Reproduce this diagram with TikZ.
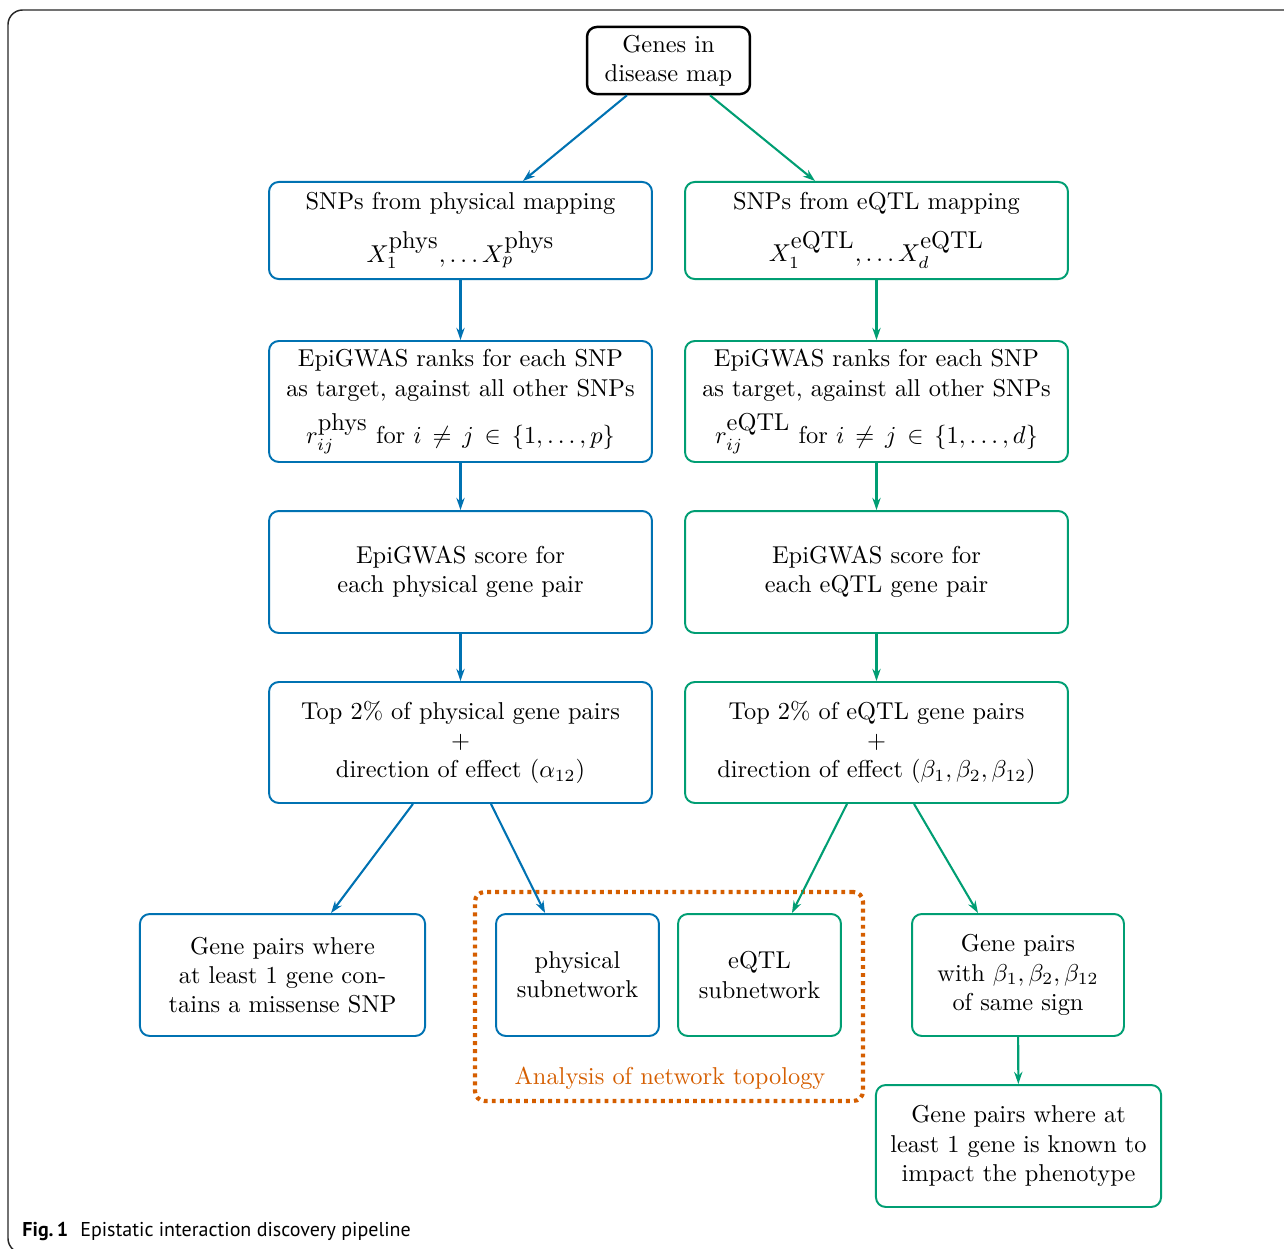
\documentclass[tikz,border=0pt]{standalone}
\usepackage{fontspec}
\usetikzlibrary{arrows.meta}
\newfontfamily\capfont{PT Sans}
\definecolor{cblue}{RGB}{0,114,178}
\definecolor{cgreen}{RGB}{0,158,115}
\definecolor{corange}{RGB}{213,94,0}
\tikzset{
  box/.style={draw, rounded corners=4pt, line width=0.8pt, align=center, inner sep=0pt},
  bluebox/.style={box, draw=cblue},
  greenbox/.style={box, draw=cgreen},
  blackbox/.style={box, draw=black, line width=1pt},
  arr/.style={-{Stealth[length=5pt,width=3.4pt]}, line width=0.85pt},
  bluearr/.style={arr, draw=cblue},
  greenarr/.style={arr, draw=cgreen},
  groupbox/.style={draw=corange, line width=1.7pt, rounded corners=4pt, dash pattern=on 1.6pt off 1.7pt, inner sep=0pt},
  mainw/.style={minimum width=157pt}
}
\begin{document}
\begin{tikzpicture}[x=0.41pt,y=-0.41pt]
\useasboundingbox (0,0) rectangle (1284,1249);
% outer frame
\draw[line width=0.6pt, draw=black!85, rounded corners=6pt] (1290,1253) -- (8,1253) -- (8,10) -- (1290,10);

% top
\node[blackbox, minimum width=66.8pt, minimum height=27.5pt] (genes) at (668.5,60.5) {Genes in\\disease map};

% physical column
\node[bluebox, mainw, minimum height=39.8pt] (snpP) at (460.5,230.5) {SNPs from physical mapping\\[6pt] $X_1^{\mbox{phys}}, \dots X_p^{\mbox{phys}}$};
\node[bluebox, mainw, minimum height=49.6pt] (rankP) at (460.5,401.5) {EpiGWAS ranks for each SNP\\as target, against all other SNPs\\[4pt] $r_{ij}^{\mbox{phys}}$ for $i \,\neq\, j \,\in\, \{1, \dots, p\}$};
\node[bluebox, mainw, minimum height=50pt] (scoreP) at (460.5,572) {EpiGWAS score for\\each physical gene pair};
\node[bluebox, mainw, minimum height=49.6pt] (topP) at (460.5,742.5) {Top 2\% of physical gene pairs\\$+$\\direction of effect ($\alpha_{12}$)};

% eQTL column
\node[greenbox, mainw, minimum height=39.8pt] (snpE) at (876.5,230.5) {SNPs from eQTL mapping\\[6pt] $X_1^{\mbox{eQTL}}, \dots X_d^{\mbox{eQTL}}$};
\node[greenbox, mainw, minimum height=49.6pt] (rankE) at (876.5,401.5) {EpiGWAS ranks for each SNP\\as target, against all other SNPs\\[4pt] $r_{ij}^{\mbox{eQTL}}$ for $i \,\neq\, j \,\in\, \{1, \dots, d\}$};
\node[greenbox, mainw, minimum height=50pt] (scoreE) at (876.5,572) {EpiGWAS score for\\each eQTL gene pair};
\node[greenbox, mainw, minimum height=49.6pt] (topE) at (876.5,742.5) {Top 2\% of eQTL gene pairs\\$+$\\direction of effect ($\beta_1, \beta_2, \beta_{12}$)};

% bottom row
\node[groupbox, minimum width=159.1pt, minimum height=85.7pt] (group) at (669,996.5) {};
\node[text=corange, inner sep=0pt] (grouplabel) at (670,1078) {Analysis of network topology};
\node[bluebox, minimum width=116.9pt, minimum height=50pt] (miss) at (282.5,975) {Gene pairs where\\at least 1 gene con-\\tains a missense SNP};
\node[bluebox, minimum width=66.8pt, minimum height=50pt] (subP) at (577.5,975) {physical\\subnetwork};
\node[greenbox, minimum width=66.8pt, minimum height=50pt] (subE) at (759.5,975) {eQTL\\subnetwork};
\node[greenbox, minimum width=86.9pt, minimum height=50pt] (same) at (1018,975) {Gene pairs\\with $\beta_1, \beta_2, \beta_{12}$\\of same sign};
\node[greenbox, minimum width=116.9pt, minimum height=50pt] (known) at (1018.5,1146) {Gene pairs where at\\least 1 gene is known to\\impact the phenotype};

% arrows
\draw[bluearr] ([xshift=-17pt]genes.south) -- ([xshift=25.6pt]snpP.north);
\draw[greenarr] ([xshift=17pt]genes.south) -- ([xshift=-25.2pt]snpE.north);
\draw[bluearr] (snpP) -- (rankP);
\draw[bluearr] (rankP) -- (scoreP);
\draw[bluearr] (scoreP) -- (topP);
\draw[greenarr] (snpE) -- (rankE);
\draw[greenarr] (rankE) -- (scoreE);
\draw[greenarr] (scoreE) -- (topE);
\draw[bluearr] ([xshift=-19.5pt]topP.south) -- ([xshift=19.9pt]miss.north);
\draw[bluearr] ([xshift=12.5pt]topP.south) -- ([xshift=-13.3pt]subP.north);
\draw[greenarr] ([xshift=-12.1pt]topE.south) -- ([xshift=13.3pt]subE.north);
\draw[greenarr] ([xshift=15.4pt]topE.south) -- ([xshift=-16.4pt]same.north);
\draw[greenarr] (same) -- (known);

% caption
\node[anchor=base west, inner sep=0pt, font=\capfont\fontsize{8.2pt}{10pt}\selectfont] (caption) at (22,1236) {\textbf{Fig.\,1}\hspace{0.6em}Epistatic interaction discovery pipeline};
\end{tikzpicture}
\end{document}
